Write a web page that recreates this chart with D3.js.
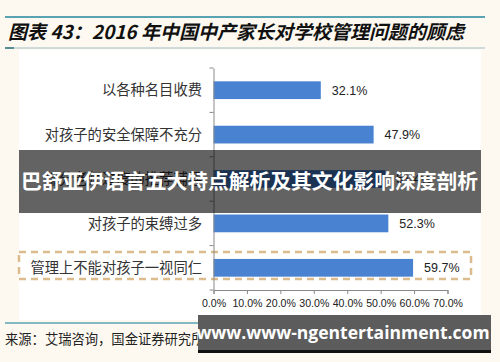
<!DOCTYPE html>
<html><head><meta charset="utf-8">
<script src="https://cdn.jsdelivr.net/npm/d3@7"></script>
<style>body{margin:0;background:#fdf9f0;}svg{display:block;}</style>
</head><body>
<script>
const categories = ["以各种名目收费","对孩子的安全保障不充分","部分老师过度的推荐辅导","对孩子的束缚过多","管理上不能对孩子一视同仁"];
const values = [32.1, 47.9, 51.4, 52.3, 59.7];
const xTicks = [0,10,20,30,40,50,60,70];
const title = "图表 43：2016 年中国中产家长对学校管理问题的顾虑";
const source = "来源：艾瑞咨询，国金证券研究所";
const banner = "巴舒亚伊语言五大特点解析及其文化影响深度剖析";
const watermark = "www.www-ngentertainment.com";

const W = 500, H = 362;
const svg = d3.select("body").append("svg").attr("width", W).attr("height", H);
const cjk = "'Noto Sans CJK SC','Noto Sans',sans-serif";

svg.append("rect").attr("width", W).attr("height", H).attr("fill", "#fdf9f0");
svg.append("rect").attr("x", 19).attr("y", 50).attr("width", 462).attr("height", 270).attr("fill", "#ffffff");

// title lines
svg.append("line").attr("x1", 5).attr("x2", 485).attr("y1", 17).attr("y2", 17).attr("stroke", "#5aa3b3").attr("stroke-width", 2);
svg.append("line").attr("x1", 5).attr("x2", 485).attr("y1", 48).attr("y2", 48).attr("stroke", "#9fbcc4").attr("stroke-width", 1);
svg.append("line").attr("x1", 5).attr("x2", 14).attr("y1", 48).attr("y2", 48).attr("stroke", "#5a8a98").attr("stroke-width", 2);
svg.append("text").attr("x", 8).attr("y", 39).attr("font-family", cjk).attr("font-size", 19).attr("font-weight", "bold")
  .attr("font-style", "italic").attr("fill", "#111").text(title);

const x = d3.scaleLinear().domain([0, 70]).range([213.5, 447.5]);
const y = d3.scaleBand().domain(categories).range([68, 290]).paddingInner(0.6).paddingOuter(0.3);

// dashed highlight box
svg.append("rect").attr("x", 19).attr("y", 252).attr("width", 452).attr("height", 27)
  .attr("fill", "none").attr("stroke", "#dcbb8c").attr("stroke-width", 2.5).attr("stroke-dasharray", "7,5");

svg.selectAll("rect.bar").data(values).enter().append("rect").attr("class", "bar")
  .attr("x", x(0)).attr("y", (d, i) => y(categories[i]))
  .attr("width", d => x(d) - x(0)).attr("height", y.bandwidth()).attr("fill", "#4a82d2");

svg.selectAll("text.val").data(values).enter().append("text").attr("class", "val")
  .attr("x", d => x(d) + 11).attr("y", (d, i) => y(categories[i]) + y.bandwidth() / 2)
  .attr("dy", "0.35em").attr("font-family", "'Liberation Sans',Arial,sans-serif").attr("font-size", 12.5)
  .attr("fill", "#222").text(d => d.toFixed(1) + "%");

// y axis
const yAxis = d3.axisLeft(y).tickSize(0).tickFormat("");
const gy = svg.append("g").attr("transform", `translate(${x(0)},0)`).call(yAxis);
gy.select(".domain").attr("stroke", "#888");
const bounds = d3.range(categories.length + 1).map(i => 68 + i * y.step());
svg.selectAll("line.ytick").data(bounds).enter().append("line").attr("class", "ytick")
  .attr("x1", x(0) - 4).attr("x2", x(0)).attr("y1", d => d).attr("y2", d => d).attr("stroke", "#888");
svg.selectAll("text.cat").data(categories).enter().append("text").attr("class", "cat")
  .attr("x", 202).attr("y", d => y(d) + y.bandwidth() / 2).attr("dy", "0.36em")
  .attr("text-anchor", "end").attr("font-family", cjk).attr("font-size", 14.3).attr("fill", "#333").text(d => d);

// x axis
const xAxis = d3.axisBottom(x).tickValues(xTicks).tickSize(4).tickFormat(d => d.toFixed(1) + "%");
const gx = svg.append("g").attr("transform", "translate(0,290)").call(xAxis);
gx.select(".domain").attr("stroke", "#888");
gx.selectAll(".tick line").attr("stroke", "#888");
gx.selectAll(".tick text").attr("font-family", "'Liberation Sans',Arial,sans-serif").attr("font-size", 10.6)
  .attr("fill", "#222").attr("dy", "0.95em");

// source
svg.append("line").attr("x1", 5).attr("x2", 485).attr("y1", 323).attr("y2", 323).attr("stroke", "#5aa3b3").attr("stroke-width", 1.5);
svg.append("text").attr("x", 5).attr("y", 344).attr("font-family", cjk).attr("font-size", 13.3).attr("fill", "#222").text(source);

// banner overlay
svg.append("rect").attr("x", 19).attr("y", 150).attr("width", 462).attr("height", 63).attr("fill", "#000").attr("opacity", 0.61);
svg.append("text").attr("x", 21).attr("y", 182).attr("dy", "0.36em")
  .attr("textLength", 457).attr("lengthAdjust", "spacingAndGlyphs")
  .attr("font-family", cjk).attr("font-weight", "bold").attr("font-size", 20.8).attr("fill", "#fff").text(banner);

// watermark
svg.append("rect").attr("x", 198).attr("y", 315).attr("width", 293).attr("height", 38).attr("fill", "#5c5c5c");
svg.append("rect").attr("x", 198).attr("y", 350).attr("width", 293).attr("height", 3).attr("fill", "#111");
svg.append("text").attr("x", 343).attr("y", 333).attr("dy", "0.36em").attr("text-anchor", "middle")
  .attr("font-family", "'Open Sans','DejaVu Sans',sans-serif").attr("font-weight", "bold").attr("font-size", 17.5)
  .attr("fill", "#fff").text(watermark);
</script>
</body></html>
